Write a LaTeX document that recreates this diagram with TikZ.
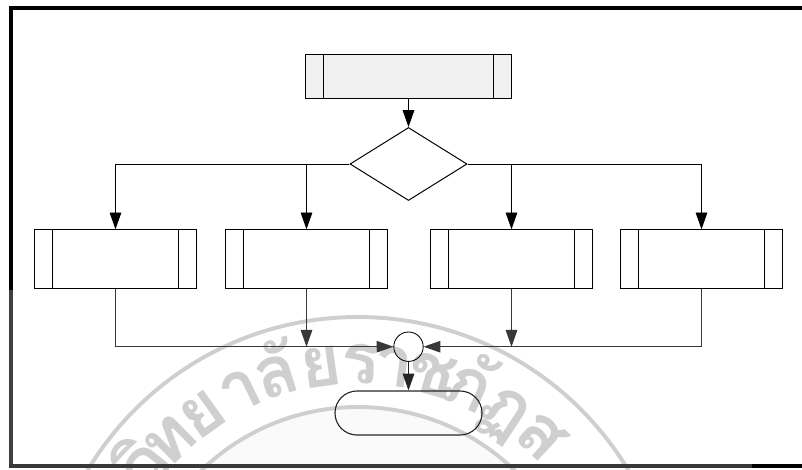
\documentclass[tikz,border=0pt]{standalone}
\usepackage{fontspec}
\newfontfamily\thaifont[Script=Thai]{Loma}
\usetikzlibrary{arrows.meta,shapes.geometric,shapes.misc}

\tikzset{
  procbox/.style={draw,minimum width=4.025cm,minimum height=1.46cm,inner sep=0pt,line width=.7pt,
    path picture={
      \draw[line width=.7pt] ([xshift=.4375cm]path picture bounding box.north west) -- ([xshift=.4375cm]path picture bounding box.south west);
      \draw[line width=.7pt] ([xshift=-.4375cm]path picture bounding box.north east) -- ([xshift=-.4375cm]path picture bounding box.south east);
    }},
  arr/.style={line width=.7pt,-{Triangle[length=.42cm,width=.29cm]}},
  seal/.style={draw=black!19,line width=2.8pt},
  sealtext/.style={text=black!19,font=\thaifont\bfseries\fontsize{50}{50}\selectfont,inner sep=0pt,anchor=base}
}

\begin{document}
\begin{tikzpicture}[x=.025cm,y=-.025cm]
\useasboundingbox (0,0) rectangle (802,469);
\clip (0,0) rectangle (802,469);

\fill[black!2] (358,632) circle (225);
\draw[seal] (358,632) circle (225);
\draw[seal] (358,632) circle (315);
\foreach \ch/\ang [count=\i] in {วิ/-52,ท/-44.5,ย/-35.5,า/-26,ลั/-17.5,ย/-8,ร/0.5,า/7.7,ช/16,ภั/24,ฏ/33.5,ส/43}
  \node[sealtext,rotate=-\ang] (letter\i) at ({358+248*sin(\ang)},{632-248*cos(\ang)}) {\ch};

\draw[line width=3pt] (802,8) -- (10.7,8) -- (10.7,290);
\draw[line width=3pt,black!75] (10.7,290) -- (10.7,466);
\draw[line width=2.6pt,black!78] (9.2,466) -- (752,466);
\draw[line width=2.6pt] (752,466) -- (802,466);

\node[procbox,fill=black!6,minimum width=5.125cm,minimum height=1.1cm] (topproc) at (408.5,76) {};
\node[diamond,draw,aspect=1.6,inner sep=0pt,minimum width=2.925cm,minimum height=1.825cm,line width=.7pt] (branch) at (408.5,164) {};

\node[procbox] (procA) at (115.5,259) {};
\node[procbox] (procB) at (306.5,259) {};
\node[procbox] (procC) at (511.5,259) {};
\node[procbox] (procD) at (701.5,259) {};

\node[circle,draw,inner sep=0pt,minimum size=.735cm,line width=.6pt] (joint) at (408.5,346.7) {};
\node[rounded rectangle,draw,inner sep=0pt,minimum width=3.675cm,minimum height=1.1cm,line width=.8pt,black!85] (finish) at (408.5,413) {};

\draw[arr] (topproc) -- (branch);
\draw[arr] (branch.west) -| (procA.north);
\draw[arr] (branch.west) -| (procB.north);
\draw[arr] (branch.east) -| (procC.north);
\draw[arr] (branch.east) -| (procD.north);

\draw[arr,black!78] (procA.south) |- (joint.west);
\draw[arr,black!78] (procD.south) |- (joint.east);
\draw[arr,black!78] (procB.south) -- (procB.south |- joint.west);
\draw[arr,black!78] (procC.south) -- (procC.south |- joint.east);
\draw[arr,black!85] (joint) -- (finish);
\end{tikzpicture}
\end{document}
